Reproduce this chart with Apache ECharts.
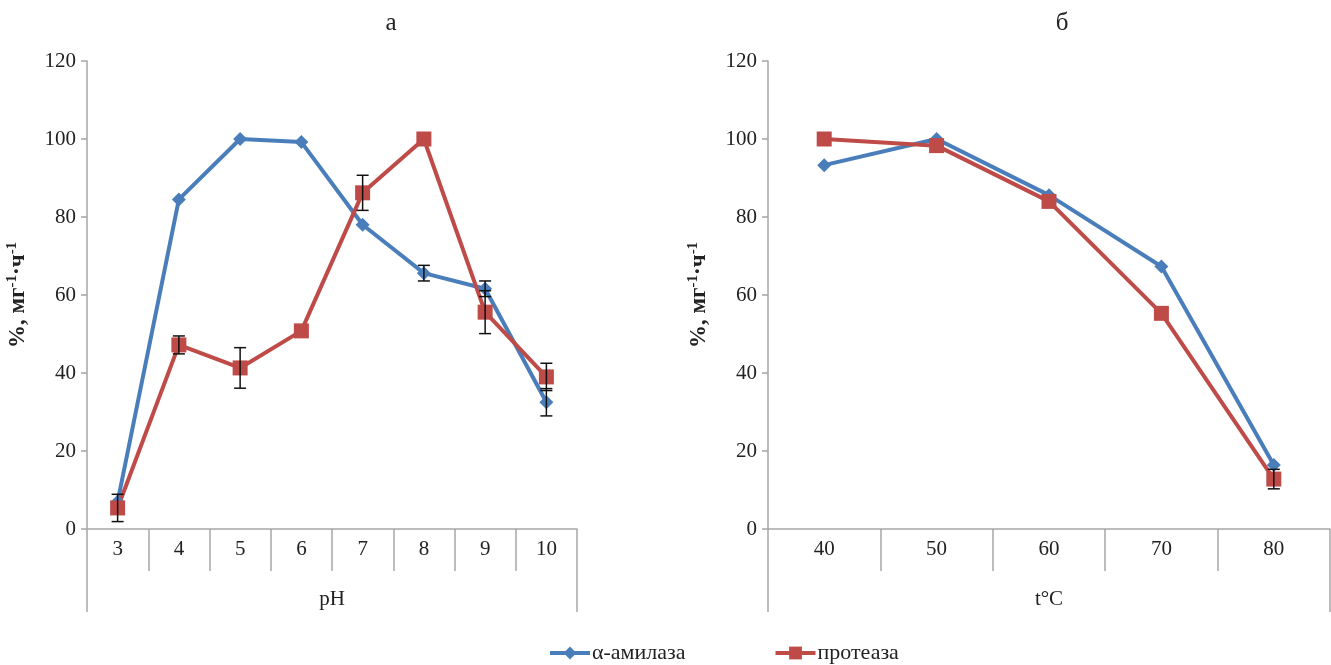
<!DOCTYPE html>
<html>
<head>
<meta charset="utf-8">
<script src="https://cdn.jsdelivr.net/npm/echarts@6/dist/echarts.min.js"></script>
<style>html,body{margin:0;padding:0;background:#fff}#c{width:1331px;height:665px}</style>
</head>
<body>
<div id="c"></div>
<script>
// ---- data ----
var phCats = ['3','4','5','6','7','8','9','10'];
var phAmylase = [7, 84.5, 100, 99.2, 78, 65.6, 61.6, 32.5];
var phProtease = [5.4, 47.2, 41.3, 50.8, 86.2, 100, 55.6, 39];
var phAmylaseErr = [0, 0, 0, 0, 0, 2, 2, 3.5];
var phProteaseErr = [3.5, 2.3, 5.2, 0, 4.5, 0, 5.5, 3.5];

var tCats = ['40','50','60','70','80'];
var tAmylase = [93.3, 100, 85.6, 67.3, 16.4];
var tProtease = [100, 98.3, 84, 55.3, 12.8];
var tAmylaseErr = [0, 0, 0, 0, 0];
var tProteaseErr = [0, 0, 0, 0, 2.5];

var yTicks = [0, 20, 40, 60, 80, 100, 120];

var BLUE = '#4a7ebb', RED = '#be4b48', AX = '#a6a6a6', TXT = '#222';
var FONT = '"Liberation Serif", "DejaVu Serif", serif';

function errData(vals, errs) {
  var out = [];
  for (var i = 0; i < vals.length; i++) if (errs[i] > 0) out.push([i, vals[i], errs[i]]);
  return out;
}
function errSeries(xi, vals, errs) {
  return {
    type: 'custom', xAxisIndex: xi, yAxisIndex: xi, z: 10, silent: true,
    encode: {x: 0, y: 1},
    data: errData(vals, errs),
    renderItem: function (params, api) {
      var x = api.value(0), v = api.value(1), e = api.value(2);
      var top = api.coord([x, v + e]), bot = api.coord([x, v - e]);
      var w = 6;
      var st = {stroke: '#111', lineWidth: 1.5};
      return {type: 'group', children: [
        {type: 'line', shape: {x1: top[0], y1: top[1], x2: bot[0], y2: bot[1]}, style: st},
        {type: 'line', shape: {x1: top[0] - w, y1: top[1], x2: top[0] + w, y2: top[1]}, style: st},
        {type: 'line', shape: {x1: bot[0] - w, y1: bot[1], x2: bot[0] + w, y2: bot[1]}, style: st}
      ]};
    }
  };
}
function yAxis(gi) {
  return {
    type: 'value', gridIndex: gi, min: yTicks[0], max: yTicks[yTicks.length - 1], interval: 20,
    name: '%, мг{s|-1}·ч{s|-1}', nameLocation: 'middle', nameGap: 56, nameRotate: 90,
    nameTextStyle: {fontFamily: FONT, fontWeight: 'bold', fontSize: 23, color: TXT,
      rich: {s: {fontFamily: FONT, fontWeight: 'bold', fontSize: 15, color: TXT, padding: [0, 0, 11, 0]}}},
    axisLine: {show: true, lineStyle: {color: AX, width: 1.5}},
    axisTick: {show: true, length: 6, lineStyle: {color: AX, width: 1.5}},
    splitLine: {show: false},
    axisLabel: {fontFamily: FONT, fontSize: 21, color: TXT, margin: 11}
  };
}
function xAxis(gi, cats) {
  return {
    type: 'category', gridIndex: gi, data: cats, boundaryGap: true,
    axisLine: {show: true, lineStyle: {color: AX, width: 1.5}},
    axisTick: {show: true, length: 42, lineStyle: {color: AX, width: 1.5}},
    axisLabel: {fontFamily: FONT, fontSize: 21, color: TXT, margin: 10}
  };
}
function outerAxis(gi, label) {
  return {
    type: 'category', gridIndex: gi, data: [label], position: 'bottom', boundaryGap: true,
    axisLine: {show: false},
    axisTick: {show: true, length: 83, lineStyle: {color: AX, width: 1.5}},
    axisLabel: {fontFamily: FONT, fontSize: 21, color: TXT, margin: 60}
  };
}
function lineSeries(name, xi, data, color, symbol, size) {
  return {
    name: name, type: 'line', xAxisIndex: xi, yAxisIndex: xi, data: data,
    symbol: symbol, symbolSize: size, z: 3,
    lineStyle: {color: color, width: 4},
    itemStyle: {color: color}
  };
}

var chart = echarts.init(document.getElementById('c'), null, {renderer: 'canvas'});
chart.setOption({
  animation: false,
  backgroundColor: '#fff',
  title: [
    {text: 'а', left: 386, top: 6, textAlign: 'center', textStyle: {fontFamily: FONT, fontSize: 25, fontWeight: 'normal', color: TXT}},
    {text: 'б', left: 1057, top: 6, textAlign: 'center', textStyle: {fontFamily: FONT, fontSize: 25, fontWeight: 'normal', color: TXT}}
  ],
  grid: [
    {left: 87, top: 61, width: 490, height: 468},
    {left: 768, top: 61, width: 562, height: 468}
  ],
  xAxis: [xAxis(0, phCats), xAxis(1, tCats), outerAxis(0, 'pH'), outerAxis(1, 't°C')],
  yAxis: [yAxis(0), yAxis(1)],
  legend: {
    top: 637, left: 543, itemGap: 88, itemWidth: 40, itemHeight: 16,
    lineStyle: {width: 4},
    textStyle: {fontFamily: FONT, fontSize: 22, color: TXT, padding: [0, 0, 0, -3]},
    data: ['α-амилаза', 'протеаза']
  },
  series: [
    lineSeries('α-амилаза', 0, phAmylase, BLUE, 'diamond', 14),
    lineSeries('протеаза', 0, phProtease, RED, 'rect', 15),
    lineSeries('α-амилаза', 1, tAmylase, BLUE, 'diamond', 14),
    lineSeries('протеаза', 1, tProtease, RED, 'rect', 15),
    errSeries(0, phAmylase, phAmylaseErr),
    errSeries(0, phProtease, phProteaseErr),
    errSeries(1, tAmylase, tAmylaseErr),
    errSeries(1, tProtease, tProteaseErr)
  ]
});
</script>
</body>
</html>
